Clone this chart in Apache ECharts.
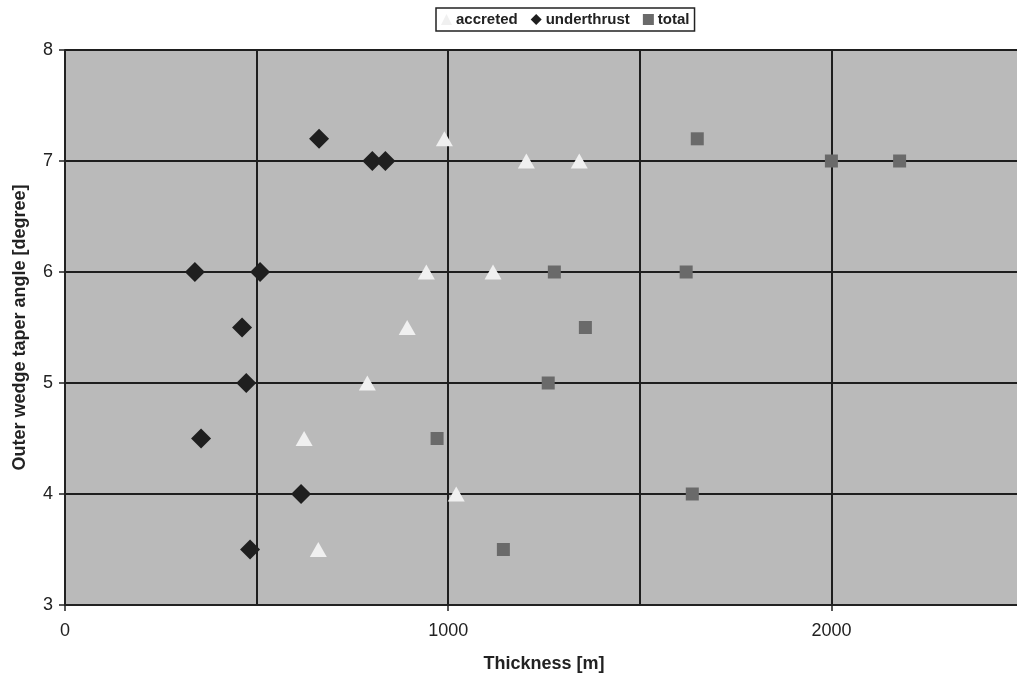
<!DOCTYPE html>
<html>
<head>
<meta charset="utf-8">
<script src="https://cdn.jsdelivr.net/npm/echarts@6/dist/echarts.min.js"></script>
<style>
  html, body { margin: 0; padding: 0; background: #fff; }
  #chart { width: 1017px; height: 679px; }
</style>
</head>
<body>
<div id="chart"></div>
<script>
// Taper angle levels (degrees) for each measured section
const angles = [7.2, 7, 7, 6, 6, 5.5, 5, 4.5, 4, 3.5];
// Thickness values in metres
const accreted    = [990, 1204, 1342, 943, 1117, 893, 789, 624, 1021, 661];
const underthrust = [663, 802, 836, 339, 509, 462, 473, 355, 616, 483];
const total       = [1650, 2000, 2178, 1277, 1621, 1358, 1261, 971, 1637, 1144];
const xTickLabels = [0, 1000, 2000];
const yTickLabels = [3, 4, 5, 6, 7, 8];

const pairs = (xs) => xs.map((x, i) => [x, angles[i]]);
const font = 'Liberation Sans, Arial, sans-serif';

const chart = echarts.init(document.getElementById('chart'));
chart.setOption({
  animation: false,
  backgroundColor: '#ffffff',
  legend: {
    top: 8,
    left: 436,
    itemWidth: 11,
    itemHeight: 11,
    itemGap: 13,
    padding: [4, 5, 4, 5],
    borderColor: '#222',
    borderWidth: 1.5,
    borderRadius: 0,
    textStyle: { fontFamily: font, fontWeight: 'bold', fontSize: 15, color: '#222', padding: [0, 0, 0, -1] },
    data: ['accreted', 'underthrust', 'total']
  },
  // plot runs past the right edge of the canvas, so the 2500 border is cut off
  grid: {
    left: 65, top: 50, width: 958, height: 555, outerBoundsMode: 'none',
    show: true, backgroundColor: '#bababa', borderWidth: 0
  },
  xAxis: [
    {
      type: 'value', min: 0, max: 2500, interval: 1000, position: 'bottom',
      name: 'Thickness [m]', nameLocation: 'middle', nameGap: 50,
      nameTextStyle: { fontFamily: font, fontWeight: 'bold', fontSize: 18, color: '#222' },
      axisLine: { show: true, onZero: false, lineStyle: { color: '#222', width: 2 } },
      axisTick: { show: true, length: 6, lineStyle: { color: '#222', width: 1.5 } },
      axisLabel: {
        fontFamily: font, fontSize: 18, color: '#222', margin: 17,
        formatter: (v) => (xTickLabels.indexOf(v) >= 0 ? String(v) : '')
      },
      splitLine: { show: false }
    },
    {
      type: 'value', min: 0, max: 2500, interval: 500, position: 'bottom',
      axisLine: { show: false }, axisTick: { show: false }, axisLabel: { show: false },
      splitLine: { show: true, lineStyle: { color: '#1e1e1e', width: 2 } }
    }
  ],
  yAxis: {
    type: 'value', min: 3, max: 8, interval: 1,
    name: 'Outer wedge taper angle [degree]', nameLocation: 'middle', nameGap: 36,
    nameTextStyle: { fontFamily: font, fontWeight: 'bold', fontSize: 18, color: '#222' },
    axisLine: { show: true, lineStyle: { color: '#222', width: 2 } },
    axisTick: { show: true, length: 6, lineStyle: { color: '#222', width: 1.5 } },
    axisLabel: {
      fontFamily: font, fontSize: 18, color: '#222', margin: 12,
      formatter: (v) => (yTickLabels.indexOf(v) >= 0 ? String(v) : '')
    },
    splitLine: { show: true, lineStyle: { color: '#1e1e1e', width: 2 } }
  },
  series: [
    {
      name: 'accreted', type: 'scatter', symbol: 'triangle', symbolSize: [17, 15],
      itemStyle: { color: '#f0f0f0', opacity: 1 }, data: pairs(accreted), z: 3
    },
    {
      name: 'underthrust', type: 'scatter', symbol: 'diamond', symbolSize: [20, 20],
      itemStyle: { color: '#1f1f1f', opacity: 1 }, data: pairs(underthrust), z: 3
    },
    {
      name: 'total', type: 'scatter', symbol: 'rect', symbolSize: 13,
      itemStyle: { color: '#6a6a6a', opacity: 1 }, data: pairs(total), z: 3
    }
  ]
});
</script>
</body>
</html>
